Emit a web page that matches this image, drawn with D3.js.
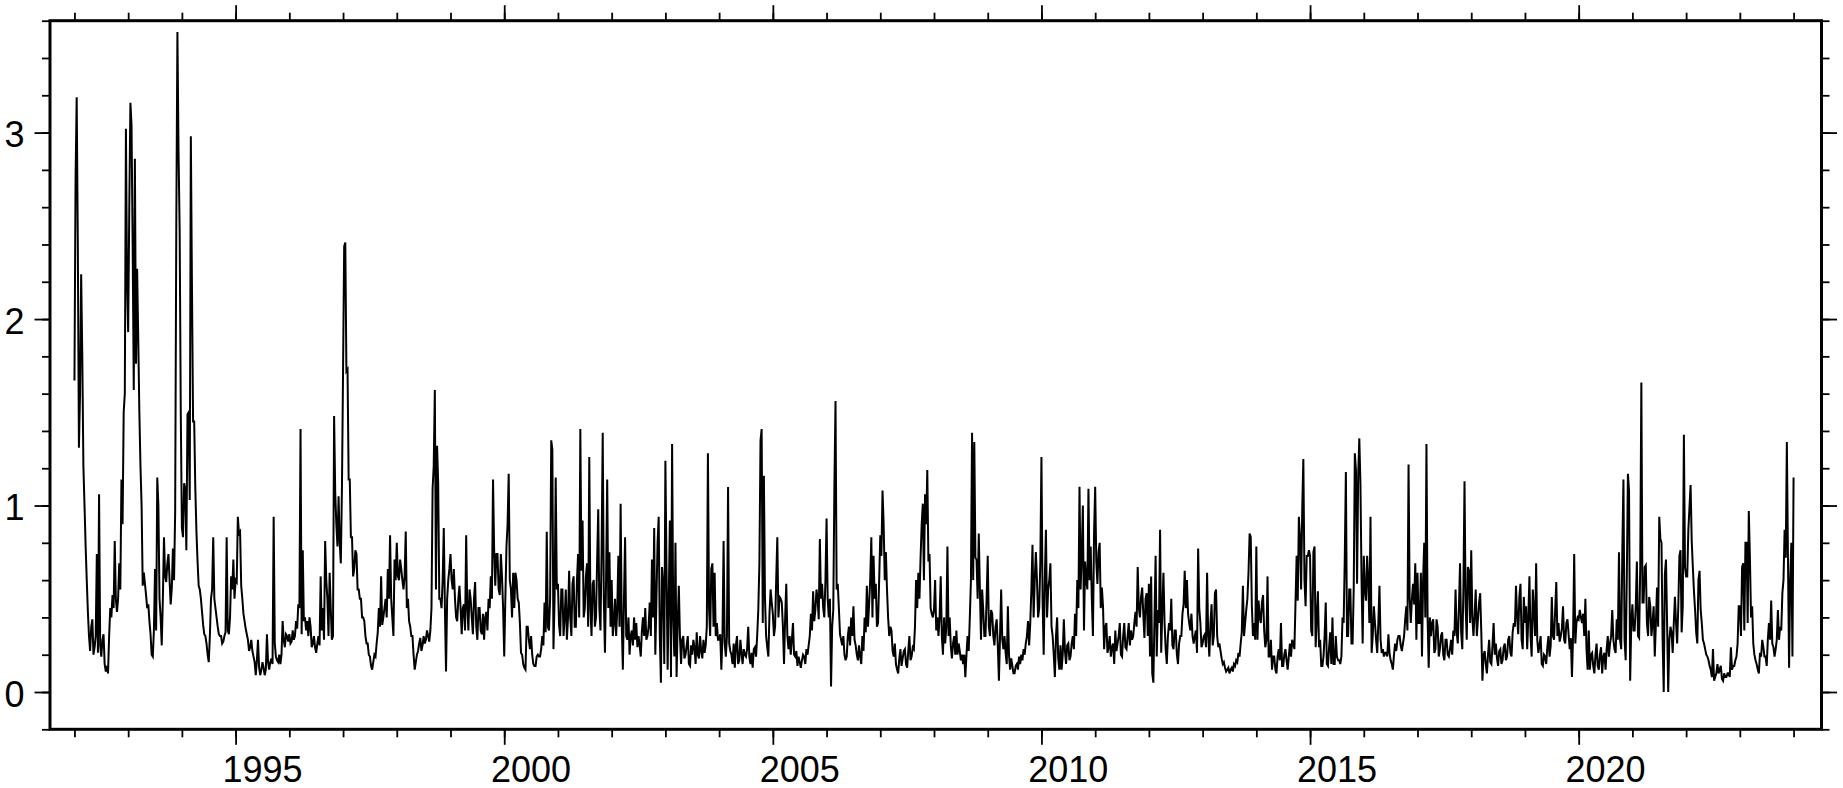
<!DOCTYPE html>
<html><head><meta charset="utf-8">
<script src="https://cdn.jsdelivr.net/npm/d3@7/dist/d3.min.js"></script>
<style>
html,body{margin:0;padding:0;background:#fff;}
svg{display:block;}
text{font-family:"Liberation Sans", Arial, Helvetica, sans-serif;}
</style>
</head><body>
<svg id="chart" width="1843" height="788"></svg>
<script>
// ---- data: one array per year, 48 samples per year starting at Jan 1 ----
const firstYear = 1992;
const samplesPerYear = 48;
const v1992 = [1.67,2.75,3.19,2.42,1.31,1.6,2.24,1.81,1.21,1.0,0.78,0.6,0.43,0.3,0.22,0.35,0.39,0.2,0.24,0.3,0.74,0.21,1.06,0.25,0.19,0.28,0.31,0.15,0.11,0.14,0.10,0.3,0.45,0.4,0.52,0.45,0.81,0.5,0.43,0.5,0.69,0.55,1.14,0.9,1.5,1.6,3.02,2.2];
const v1993 = [1.93,2.6,3.16,3.04,2.4,1.62,2.86,1.76,2.27,1.9,1.5,1.21,1.0,0.57,0.64,0.58,0.52,0.45,0.47,0.38,0.31,0.2,0.19,0.33,0.66,0.33,1.15,1.0,0.5,0.4,0.25,0.5,0.83,0.62,0.59,0.69,0.74,0.6,0.47,0.56,0.77,0.6,0.97,2.5,3.54,2.9,2.48,1.5];
const v1994 = [0.88,0.83,1.12,1.09,0.76,1.49,1.5,1.03,2.98,2.17,1.45,1.45,1.09,0.86,0.7,0.57,0.55,0.5,0.43,0.36,0.31,0.3,0.26,0.2,0.16,0.3,0.5,0.55,0.83,0.5,0.45,0.4,0.35,0.31,0.3,0.3,0.26,0.27,0.3,0.32,0.83,0.33,0.31,0.4,0.62,0.55,0.71,0.5];
const v1995 = [0.6,0.59,0.94,0.85,0.86,0.57,0.5,0.42,0.38,0.34,0.31,0.28,0.22,0.24,0.28,0.22,0.19,0.16,0.09,0.17,0.28,0.13,0.09,0.12,0.16,0.13,0.09,0.12,0.31,0.16,0.12,0.16,0.18,0.15,0.94,0.26,0.19,0.17,0.16,0.2,0.15,0.2,0.38,0.28,0.24,0.31,0.3,0.27];
const v1996 = [0.31,0.26,0.27,0.33,0.28,0.3,0.38,0.34,0.47,0.45,1.41,0.31,0.76,0.38,0.4,0.33,0.38,0.3,0.4,0.35,0.24,0.26,0.3,0.24,0.21,0.26,0.3,0.25,0.62,0.33,0.45,0.28,0.81,0.6,0.5,0.3,0.64,0.45,0.28,0.3,1.48,1.07,0.9,0.78,1.05,0.8,0.69,1.09];
const v1997 = [1.72,2.39,2.41,1.72,1.73,1.14,1.14,0.83,0.83,0.62,0.66,0.76,0.74,0.55,0.55,0.5,0.5,0.4,0.4,0.38,0.3,0.26,0.26,0.2,0.19,0.14,0.12,0.16,0.2,0.19,0.26,0.32,0.45,0.35,0.62,0.36,0.4,0.45,0.5,0.4,0.66,0.5,0.84,0.5,0.4,0.3,0.71,0.6];
const v1998 = [0.8,0.62,0.6,0.71,0.66,0.6,0.55,0.62,0.86,0.45,0.5,0.38,0.35,0.3,0.3,0.2,0.12,0.16,0.2,0.22,0.26,0.29,0.22,0.25,0.3,0.26,0.28,0.33,0.3,0.27,0.33,0.45,1.09,1.21,1.62,0.55,1.32,1.12,0.5,0.5,0.45,0.6,0.88,0.45,0.11,0.5,0.6,0.66];
const v1999 = [0.74,0.6,0.55,0.66,0.5,0.4,0.38,0.5,0.57,0.45,0.31,0.45,0.47,0.33,0.84,0.45,0.33,0.55,0.5,0.4,0.31,0.5,0.59,0.35,0.28,0.45,0.45,0.33,0.31,0.42,0.28,0.4,0.43,0.33,0.5,0.45,0.62,0.5,1.14,0.76,0.57,0.74,0.74,0.55,0.52,0.74,0.62,0.45];
const v2000 = [0.19,0.5,0.78,0.9,1.17,0.6,0.55,0.4,0.64,0.45,0.64,0.6,0.5,0.48,0.37,0.21,0.2,0.15,0.13,0.12,0.35,0.35,0.28,0.23,0.3,0.2,0.15,0.14,0.14,0.19,0.2,0.19,0.19,0.23,0.3,0.25,0.48,0.32,0.86,0.35,0.33,0.5,1.35,1.3,0.23,0.5,1.15,0.55];
const v2001 = [0.58,0.36,0.3,0.55,0.55,0.3,0.4,0.55,0.28,0.4,0.65,0.4,0.3,0.58,0.62,0.35,0.35,0.6,0.74,0.4,1.41,0.65,0.92,0.4,0.45,0.62,0.69,0.35,1.26,0.45,0.3,0.58,0.6,0.35,0.4,0.7,0.98,0.45,0.33,0.76,1.39,0.5,0.21,0.6,1.14,0.45,0.75,0.35];
const v2002 = [0.6,0.3,0.37,0.5,0.3,0.45,0.73,0.35,1.01,0.37,0.12,0.5,0.83,0.3,0.28,0.4,0.2,0.3,0.33,0.25,0.4,0.28,0.37,0.24,0.3,0.25,0.19,0.33,0.4,0.3,0.45,0.28,0.3,0.35,0.48,0.3,0.71,0.4,0.88,0.2,0.5,0.8,0.94,0.3,0.05,0.67,0.58,0.15];
const v2003 = [1.24,0.67,0.12,0.5,0.92,0.08,1.33,0.4,0.19,0.8,0.08,0.37,0.57,0.3,0.15,0.28,0.3,0.18,0.2,0.25,0.3,0.15,0.14,0.25,0.2,0.28,0.24,0.15,0.32,0.2,0.18,0.3,0.22,0.18,0.28,0.21,0.25,0.35,1.28,0.45,0.3,0.66,0.69,0.35,0.64,0.3,0.37,0.28];
const v2004 = [0.28,0.31,0.12,0.3,0.81,0.26,0.19,0.3,1.1,0.26,0.22,0.2,0.15,0.26,0.13,0.25,0.3,0.15,0.17,0.28,0.21,0.15,0.23,0.2,0.19,0.23,0.35,0.19,0.15,0.21,0.13,0.23,0.24,0.19,0.3,0.44,0.69,1.35,1.41,0.37,1.16,0.5,0.3,0.24,0.19,0.42,0.55,0.48];
const v2005 = [0.42,0.3,0.35,0.6,0.83,0.4,0.51,0.5,0.48,0.35,0.15,0.4,0.58,0.3,0.23,0.3,0.2,0.28,0.37,0.2,0.19,0.22,0.14,0.19,0.16,0.13,0.17,0.2,0.19,0.15,0.23,0.2,0.25,0.3,0.42,0.33,0.54,0.38,0.44,0.55,0.5,0.39,0.82,0.5,0.58,0.45,0.4,0.6];
const v2006 = [0.93,0.5,0.4,0.5,0.03,0.35,0.44,1.1,1.56,0.55,0.58,0.45,0.31,0.28,0.25,0.3,0.2,0.17,0.19,0.3,0.35,0.25,0.4,0.3,0.46,0.28,0.25,0.2,0.17,0.25,0.19,0.15,0.3,0.22,0.4,0.32,0.57,0.35,0.47,0.6,0.83,0.4,0.73,0.5,0.58,0.35,0.37,0.6];
const v2007 = [0.84,0.73,1.08,0.9,0.6,0.75,0.55,0.4,0.3,0.35,0.33,0.22,0.19,0.26,0.15,0.12,0.1,0.18,0.23,0.14,0.18,0.22,0.23,0.15,0.13,0.22,0.3,0.17,0.19,0.24,0.23,0.35,0.6,0.45,0.64,0.5,0.72,0.9,1.01,0.6,1.06,0.9,1.19,0.7,0.74,0.45,0.42,0.4];
const v2008 = [0.44,0.6,0.33,0.4,0.3,0.4,0.62,0.3,0.2,0.4,0.26,0.35,0.78,0.3,0.4,0.25,0.18,0.26,0.3,0.2,0.33,0.2,0.26,0.22,0.17,0.2,0.15,0.2,0.08,0.2,0.3,0.22,0.4,0.6,1.39,0.6,1.34,0.72,0.71,0.5,0.85,0.55,0.28,0.55,0.44,0.3,0.3,0.5];
const v2009 = [0.73,0.35,0.3,0.44,0.42,0.3,0.25,0.35,0.39,0.25,0.06,0.3,0.55,0.28,0.23,0.3,0.21,0.15,0.46,0.2,0.12,0.18,0.14,0.1,0.1,0.14,0.15,0.12,0.19,0.15,0.2,0.17,0.23,0.2,0.26,0.3,0.38,0.25,0.37,0.55,0.79,0.4,0.6,0.75,0.6,0.4,0.45,0.7];
const v2010 = [1.26,0.5,0.2,0.6,0.87,0.4,0.55,0.6,0.69,0.35,0.3,0.2,0.08,0.3,0.4,0.18,0.12,0.25,0.12,0.2,0.39,0.22,0.15,0.25,0.26,0.17,0.19,0.26,0.3,0.23,0.42,0.3,0.6,0.45,1.1,0.55,0.74,1.0,0.33,0.7,0.6,0.55,1.09,0.6,0.78,0.5,0.3,0.85];
const v2011 = [1.1,0.7,0.58,0.75,0.8,0.45,0.56,0.46,0.23,0.35,0.37,0.21,0.24,0.3,0.19,0.24,0.26,0.15,0.33,0.22,0.26,0.3,0.37,0.2,0.19,0.3,0.37,0.24,0.23,0.3,0.37,0.25,0.33,0.28,0.3,0.37,0.43,0.35,0.67,0.45,0.4,0.51,0.56,0.42,0.29,0.5,0.53,0.3];
const v2012 = [0.58,0.19,0.62,0.1,0.05,0.4,0.73,0.19,0.44,0.37,0.87,0.21,0.44,0.64,0.37,0.23,0.15,0.3,0.37,0.33,0.5,0.25,0.23,0.33,0.33,0.2,0.15,0.26,0.3,0.3,0.42,0.47,0.65,0.45,0.6,0.42,0.37,0.33,0.42,0.3,0.26,0.3,0.33,0.21,0.77,0.45,0.37,0.24];
const v2013 = [0.26,0.3,0.31,0.24,0.64,0.3,0.19,0.37,0.47,0.25,0.3,0.53,0.55,0.3,0.24,0.26,0.22,0.18,0.15,0.16,0.13,0.11,0.12,0.13,0.1,0.12,0.13,0.11,0.15,0.14,0.17,0.16,0.21,0.19,0.26,0.32,0.57,0.3,0.37,0.44,0.5,0.64,0.85,0.83,0.46,0.3,0.37,0.28];
const v2014 = [0.78,0.28,0.49,0.4,0.37,0.48,0.52,0.33,0.24,0.28,0.62,0.19,0.19,0.28,0.12,0.19,0.19,0.12,0.1,0.19,0.23,0.17,0.37,0.14,0.14,0.2,0.23,0.17,0.12,0.19,0.26,0.19,0.28,0.26,0.23,0.48,0.73,0.49,0.94,0.83,0.55,0.98,1.25,0.6,0.46,0.73,0.73,0.76];
const v2015 = [0.73,0.33,0.3,0.75,0.78,0.24,0.4,0.54,0.24,0.28,0.14,0.14,0.19,0.3,0.48,0.15,0.14,0.24,0.32,0.15,0.4,0.15,0.15,0.3,0.19,0.17,0.17,0.15,0.19,0.4,0.37,0.71,1.18,0.3,0.3,0.55,0.55,0.26,0.26,0.55,1.28,1.19,0.58,1.16,1.36,1.12,0.6,0.26];
const v2016 = [0.73,0.55,0.49,0.73,0.6,0.37,0.94,0.21,0.3,0.46,0.37,0.28,0.21,0.37,0.57,0.28,0.21,0.23,0.19,0.21,0.21,0.19,0.31,0.21,0.17,0.15,0.12,0.2,0.26,0.22,0.28,0.3,0.3,0.25,0.22,0.26,0.3,0.39,0.46,0.33,1.22,0.5,0.37,0.5,0.58,0.47,0.69,0.28];
const v2017 = [0.64,0.37,0.37,0.64,0.19,0.6,0.8,0.4,1.33,0.4,0.13,0.4,0.3,0.37,0.39,0.21,0.23,0.39,0.35,0.19,0.23,0.3,0.32,0.2,0.17,0.28,0.28,0.2,0.19,0.23,0.28,0.2,0.33,0.3,0.55,0.32,0.26,0.45,0.69,0.32,0.23,0.55,1.13,0.46,0.28,0.67,0.65,0.37];
const v2018 = [0.76,0.4,0.3,0.41,0.55,0.3,0.39,0.48,0.53,0.32,0.06,0.2,0.22,0.15,0.1,0.2,0.28,0.16,0.15,0.25,0.37,0.2,0.26,0.18,0.14,0.22,0.23,0.15,0.17,0.24,0.26,0.17,0.19,0.28,0.3,0.21,0.19,0.32,0.37,0.35,0.57,0.4,0.31,0.51,0.58,0.28,0.23,0.51];
const v2019 = [0.37,0.46,0.23,0.4,0.62,0.3,0.19,0.55,0.44,0.3,0.69,0.28,0.21,0.25,0.3,0.15,0.14,0.2,0.19,0.15,0.24,0.3,0.19,0.25,0.51,0.3,0.28,0.44,0.59,0.3,0.37,0.27,0.3,0.34,0.46,0.28,0.26,0.37,0.39,0.31,0.23,0.29,0.08,0.3,0.74,0.26,0.37,0.4];
const v2020 = [0.39,0.44,0.4,0.37,0.42,0.3,0.5,0.23,0.12,0.33,0.12,0.2,0.21,0.14,0.1,0.2,0.26,0.14,0.12,0.2,0.24,0.1,0.19,0.21,0.12,0.23,0.3,0.19,0.26,0.3,0.44,0.28,0.23,0.21,0.39,0.28,0.75,0.28,0.23,0.76,1.14,0.28,0.17,0.62,1.17,1.08,0.06,0.37];
const v2021 = [0.47,0.33,0.33,0.46,0.7,0.3,0.29,0.67,1.66,0.48,0.48,0.67,0.68,0.37,0.3,0.51,0.46,0.3,0.37,0.46,0.19,0.37,0.56,0.35,0.94,0.82,0.8,0.28,0.0,0.63,0.71,0.37,0.0,0.28,0.35,0.32,0.21,0.37,0.51,0.37,0.26,0.46,0.73,0.76,0.32,0.46,1.38,0.67];
const v2022 = [0.62,0.62,0.87,0.99,1.11,0.81,0.67,0.54,0.44,0.32,0.26,0.6,0.65,0.44,0.37,0.28,0.26,0.23,0.2,0.19,0.17,0.14,0.12,0.08,0.23,0.06,0.08,0.1,0.15,0.1,0.12,0.14,0.07,0.06,0.1,0.08,0.08,0.1,0.1,0.08,0.24,0.12,0.14,0.14,0.17,0.19,0.26,0.46];
const v2023 = [0.46,0.3,0.67,0.69,0.33,0.8,0.8,0.37,0.97,0.72,0.4,0.46,0.26,0.2,0.17,0.15,0.12,0.1,0.21,0.19,0.28,0.24,0.19,0.19,0.14,0.28,0.37,0.28,0.49,0.26,0.24,0.19,0.23,0.28,0.44,0.28,0.35,0.33,0.53,0.6,0.87,0.72,1.34,0.72,0.13,0.6,0.8,0.19];
const v2024 = [1.15];

const yearlyValues = [v1992, v1993, v1994, v1995, v1996, v1997, v1998, v1999, v2000, v2001,
  v2002, v2003, v2004, v2005, v2006, v2007, v2008, v2009, v2010, v2011, v2012, v2013,
  v2014, v2015, v2016, v2017, v2018, v2019, v2020, v2021, v2022, v2023, v2024];

// ---- axes definitions ----
const xDomain = [1991.545, 2024.52];
const yDomain = [-0.2, 3.6];
const xMajorYears = [1995, 2000, 2005, 2010, 2015, 2020];
const xLabels = ["1995", "2000", "2005", "2010", "2015", "2020"];
const xMinorYears = d3.range(1992, 2025);
const yMajorTicks = [0, 1, 2, 3];
const yLabels = ["0", "1", "2", "3"];
const yMinorTicks = d3.range(-0.2, 3.61, 0.2).map(v => +v.toFixed(1));

// ---- layout ----
const plotLeft = 50, plotRight = 1821.5, plotTop = 20.7, plotBottom = 729.3;
const majorLen = 15.5, minorLen = 8;

const data = [];
yearlyValues.forEach((arr, k) => arr.forEach((v, i) => data.push({t: firstYear + k + i / samplesPerYear, v})));

const svg = d3.select("#chart");
const x = d3.scaleLinear().domain(xDomain).range([plotLeft, plotRight]);
const y = d3.scaleLinear().domain(yDomain).range([plotBottom, plotTop]);

// series
svg.append("path")
  .datum(data)
  .attr("fill", "none")
  .attr("stroke", "#000")
  .attr("stroke-width", 2)
  .attr("stroke-linejoin", "miter")
  .attr("d", d3.line().x(d => x(d.t)).y(d => y(d.v)));

function styleAxis(g) {
  g.select(".domain").remove();
  g.selectAll(".tick line").attr("stroke", "#000").attr("stroke-width", 1.8);
}

// minor ticks
svg.append("g").attr("transform", `translate(0,${plotBottom})`)
  .call(d3.axisBottom(x).tickValues(xMinorYears).tickSize(minorLen).tickFormat("")).call(styleAxis);
svg.append("g").attr("transform", `translate(0,${plotTop})`)
  .call(d3.axisTop(x).tickValues(xMinorYears).tickSize(minorLen).tickFormat("")).call(styleAxis);
svg.append("g").attr("transform", `translate(${plotLeft},0)`)
  .call(d3.axisLeft(y).tickValues(yMinorTicks).tickSize(minorLen).tickFormat("")).call(styleAxis);
svg.append("g").attr("transform", `translate(${plotRight},0)`)
  .call(d3.axisRight(y).tickValues(yMinorTicks).tickSize(minorLen).tickFormat("")).call(styleAxis);

// major ticks
svg.append("g").attr("transform", `translate(0,${plotBottom})`)
  .call(d3.axisBottom(x).tickValues(xMajorYears).tickSize(majorLen).tickFormat("")).call(styleAxis);
svg.append("g").attr("transform", `translate(0,${plotTop})`)
  .call(d3.axisTop(x).tickValues(xMajorYears).tickSize(majorLen).tickFormat("")).call(styleAxis);
const yAx = svg.append("g").attr("transform", `translate(${plotLeft},0)`)
  .call(d3.axisLeft(y).tickValues(yMajorTicks).tickSize(majorLen).tickPadding(10)
    .tickFormat((d, i) => yLabels[i])).call(styleAxis);
yAx.selectAll(".tick text").attr("font-size", 36).attr("font-family", "Liberation Sans, Arial, sans-serif")
  .attr("fill", "#000").attr("dy", "0.39em");
svg.append("g").attr("transform", `translate(${plotRight},0)`)
  .call(d3.axisRight(y).tickValues(yMajorTicks).tickSize(majorLen).tickFormat("")).call(styleAxis);

// year labels centred in the year interval
svg.append("g").selectAll("text").data(xMajorYears).join("text")
  .attr("x", d => x(d + 0.5))
  .attr("y", 782)
  .attr("text-anchor", "middle")
  .attr("font-size", 36)
  .attr("fill", "#000")
  .text((d, i) => xLabels[i]);

// frame
svg.append("rect")
  .attr("x", plotLeft).attr("y", plotTop)
  .attr("width", plotRight - plotLeft).attr("height", plotBottom - plotTop)
  .attr("fill", "none").attr("stroke", "#000").attr("stroke-width", 3);
</script>
</body></html>
